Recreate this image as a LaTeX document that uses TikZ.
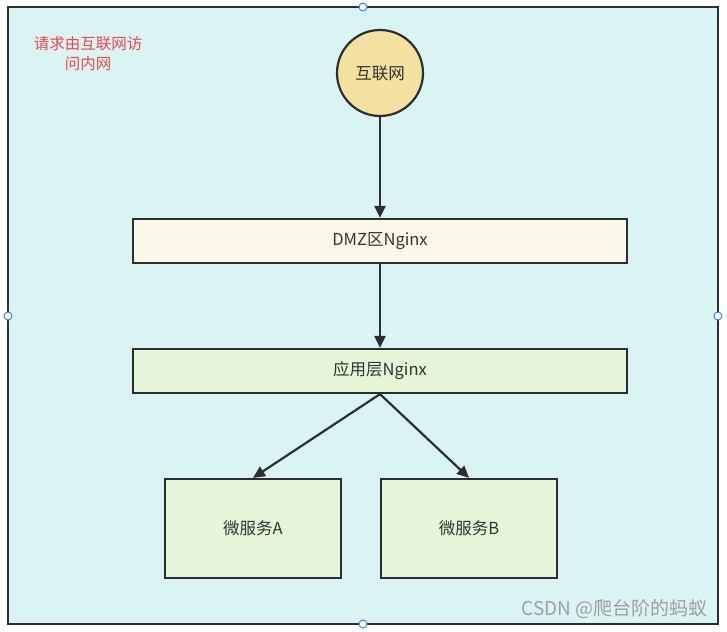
\documentclass[tikz,border=0pt]{standalone}
\usepackage{fontspec}
\setmainfont{Noto Sans CJK SC}
\usetikzlibrary{arrows.meta}
\definecolor{bgc}{HTML}{DAF4F4}
\definecolor{linec}{HTML}{2B2F33}
\definecolor{circc}{HTML}{F2E19F}
\definecolor{dmzc}{HTML}{FBF8EA}
\definecolor{greenc}{HTML}{E4F5DA}
\definecolor{redc}{HTML}{F04848}
\definecolor{handlec}{HTML}{2F86F6}
\tikzset{
  x=1pt,y=-1pt,
  boxst/.style={draw=linec,line width=2.2pt,minimum height=44pt,inner sep=0pt,font=\fontsize{16.5}{18}\selectfont,text=black!80},
  conn/.style={draw=linec,line width=2.2pt,-{Triangle[length=12pt,width=11pt]}},
  handle/.style={circle,draw=handlec,fill=white,line width=1pt,minimum size=8pt,inner sep=0pt}
}
\begin{document}
\begin{tikzpicture}
\useasboundingbox (0,0) rectangle (727,631);
\fill[white] (0,0) rectangle (727,631);
\draw[fill=bgc,draw=linec,line width=2.2pt] (8,7) rectangle (718,624);
\node[circle,draw=linec,line width=2.2pt,fill=circc,minimum size=86pt,inner sep=0pt,font=\fontsize{16.5}{18}\selectfont,text=black!80] (net) at (380,73) {互联网};
\node[boxst,fill=dmzc,minimum width=494pt] (dmz) at (380,241) {DMZ区Nginx};
\node[boxst,fill=greenc,minimum width=494pt] (app) at (380,371) {应用层Nginx};
\node[boxst,fill=greenc,minimum width=176pt,minimum height=99pt] (a) at (253,528.5) {微服务A};
\node[boxst,fill=greenc,minimum width=176pt,minimum height=99pt] (b) at (469,528.5) {微服务B};
\draw[conn] (net.south) -- (dmz.north);
\draw[conn] (dmz.south) -- (app.north);
\draw[conn] (app.south) -- (a.north);
\draw[conn] (app.south) -- (b.north);
\node[text=redc,font=\fontsize{15.5}{20}\selectfont,align=center] (lbl) at (88,54) {请求由互联网访\\问内网};
\node[text=gray!75,font=\fontsize{19}{20}\selectfont,anchor=east] (wm) at (711,609) {CSDN @爬台阶的蚂蚁};
\node[handle] (h1) at (363,7) {};
\node[handle] (h2) at (8,316) {};
\node[handle] (h3) at (718,316) {};
\node[handle] (h4) at (363,624) {};
\end{tikzpicture}
\end{document}
